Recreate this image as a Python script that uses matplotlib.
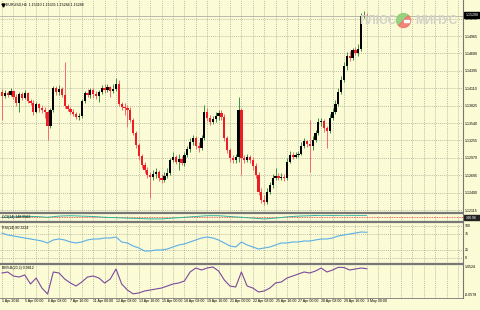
import matplotlib
matplotlib.use("Agg")
import matplotlib.pyplot as plt
from matplotlib.patches import Rectangle, Wedge
import numpy as np

plt.rcParams['font.family'] = ['Liberation Sans', 'DejaVu Sans']

### Data: EURUSD H4, 1 Apr 2016 16:00 .. 3 May 2016 00:00 ###

first_open = 1.1405
close = [1.1398, 1.1403, 1.1400, 1.1406, 1.1396, 1.1387, 1.1401, 1.1395, 1.1403, 1.1390,
         1.1387, 1.1372, 1.1385, 1.1378, 1.1375, 1.1372, 1.1349, 1.1375, 1.1411, 1.1405,
         1.1410, 1.1400, 1.1382, 1.1377, 1.1372, 1.1369, 1.1364, 1.1365, 1.1390, 1.1403,
         1.1400, 1.1408, 1.1401, 1.1398, 1.1405, 1.1411, 1.1408, 1.1413, 1.1406, 1.1410,
         1.1418, 1.1385, 1.1380, 1.1378, 1.1375, 1.1359, 1.1337, 1.1318, 1.1300, 1.1285,
         1.1277, 1.1269, 1.1265, 1.1270, 1.1273, 1.1264, 1.1260, 1.1267, 1.1272, 1.1293,
         1.1298, 1.1290, 1.1295, 1.1288, 1.1301, 1.1311, 1.1323, 1.1329, 1.1316, 1.1313,
         1.1329, 1.1372, 1.1362, 1.1355, 1.1360, 1.1365, 1.1370, 1.1364, 1.1329, 1.1310,
         1.1296, 1.1293, 1.1298, 1.1375, 1.1296, 1.1293, 1.1298, 1.1293, 1.1283, 1.1269,
         1.1241, 1.1228, 1.1224, 1.1241, 1.1252, 1.1264, 1.1267, 1.1264, 1.1265, 1.1264,
         1.1290, 1.1301, 1.1298, 1.1301, 1.1303, 1.1316, 1.1324, 1.1319, 1.1316, 1.1326,
         1.1337, 1.1355, 1.1357, 1.1346, 1.1341, 1.1362, 1.1372, 1.1385, 1.1405, 1.1424,
         1.1447, 1.1464, 1.1460, 1.1474, 1.1469, 1.1475, 1.1529, 1.1531, 1.15288]
high = [1.1410, 1.1408, 1.1406, 1.1411, 1.1408, 1.1401, 1.1405, 1.1405, 1.1408, 1.1405,
        1.1393, 1.1392, 1.1388, 1.1387, 1.1383, 1.1380, 1.1375, 1.1378, 1.1414, 1.1414,
        1.1416, 1.1413, 1.1454, 1.1385, 1.1380, 1.1377, 1.1372, 1.1370, 1.1393, 1.1406,
        1.1410, 1.1411, 1.1411, 1.1406, 1.1408, 1.1416, 1.1418, 1.1418, 1.1414, 1.1418,
        1.1428, 1.1424, 1.1388, 1.1387, 1.1383, 1.1380, 1.1362, 1.1341, 1.1321, 1.1303,
        1.1290, 1.1282, 1.1273, 1.1277, 1.1280, 1.1277, 1.1270, 1.1273, 1.1280, 1.1296,
        1.1306, 1.1301, 1.1303, 1.1300, 1.1306, 1.1316, 1.1329, 1.1334, 1.1332, 1.1323,
        1.1334, 1.1383, 1.1378, 1.1367, 1.1365, 1.1372, 1.1375, 1.1375, 1.1369, 1.1332,
        1.1313, 1.1301, 1.1303, 1.1396, 1.1378, 1.1301, 1.1303, 1.1301, 1.1298, 1.1288,
        1.1273, 1.1247, 1.1236, 1.1247, 1.1257, 1.1270, 1.1280, 1.1272, 1.1272, 1.1270,
        1.1296, 1.1308, 1.1306, 1.1306, 1.1308, 1.1323, 1.1329, 1.1326, 1.1359, 1.1332,
        1.1342, 1.1362, 1.1362, 1.1360, 1.1349, 1.1369, 1.1378, 1.1392, 1.1411, 1.1431,
        1.1454, 1.1470, 1.1472, 1.1477, 1.1478, 1.1483, 1.1534, 1.1537, 1.15335]
low = [1.1359, 1.1395, 1.1396, 1.1398, 1.1393, 1.1382, 1.1372, 1.1392, 1.1393, 1.1387,
       1.1383, 1.1367, 1.1370, 1.1372, 1.1370, 1.1362, 1.1326, 1.1346, 1.1372, 1.1400,
       1.1400, 1.1396, 1.1378, 1.1374, 1.1369, 1.1365, 1.1360, 1.1359, 1.1362, 1.1387,
       1.1396, 1.1395, 1.1395, 1.1393, 1.1388, 1.1401, 1.1403, 1.1405, 1.1396, 1.1403,
       1.1406, 1.1382, 1.1375, 1.1367, 1.1347, 1.1355, 1.1334, 1.1313, 1.1293, 1.1280,
       1.1272, 1.1264, 1.1232, 1.1260, 1.1264, 1.1259, 1.1255, 1.1257, 1.1264, 1.1269,
       1.1290, 1.1287, 1.1277, 1.1285, 1.1283, 1.1298, 1.1306, 1.1318, 1.1311, 1.1306,
       1.1310, 1.1326, 1.1357, 1.1351, 1.1352, 1.1355, 1.1359, 1.1359, 1.1324, 1.1305,
       1.1290, 1.1288, 1.1288, 1.1290, 1.1269, 1.1288, 1.1290, 1.1288, 1.1277, 1.1264,
       1.1236, 1.1223, 1.1219, 1.1221, 1.1237, 1.1247, 1.1260, 1.1260, 1.1260, 1.1259,
       1.1260, 1.1288, 1.1295, 1.1296, 1.1298, 1.1301, 1.1313, 1.1314, 1.1273, 1.1310,
       1.1323, 1.1334, 1.1349, 1.1339, 1.1313, 1.1337, 1.1359, 1.1369, 1.1382, 1.1401,
       1.1421, 1.1441, 1.1456, 1.1457, 1.1465, 1.1464, 1.1472, 1.1526, 1.15284]

price_ticks = [1.12115, 1.12400, 1.12685, 1.12970, 1.13255, 1.13540,
               1.13825, 1.14110, 1.14395, 1.14680, 1.14965, 1.15250]

date_labels = ["1 Apr 2016", "5 Apr 00:00", "6 Apr 08:00", "7 Apr 16:00", "11 Apr 00:00",
               "12 Apr 08:00", "13 Apr 16:00", "15 Apr 00:00", "18 Apr 08:00", "19 Apr 16:00",
               "21 Apr 00:00", "22 Apr 08:00", "25 Apr 16:00", "27 Apr 00:00", "28 Apr 08:00",
               "29 Apr 16:00", "3 May 00:00"]

# oscillators, read every 2nd / 4th bar
rsi = [78.1, 71.9, 68.8, 65.6, 62.5, 59.4, 56.3, 53.1, 46.9, 56.3,
       59.4, 56.3, 50.0, 46.9, 50.0, 56.3, 59.4, 59.4, 62.5, 62.5,
       65.6, 50.0, 46.9, 37.5, 31.3, 21.9, 21.9, 25.0, 25.0, 28.1,
       34.4, 40.6, 43.8, 50.0, 56.3, 62.5, 65.6, 62.5, 56.3, 46.9,
       37.5, 34.4, 50.0, 40.6, 34.4, 28.1, 31.3, 34.4, 40.6, 46.9,
       46.9, 50.0, 50.0, 53.1, 53.1, 56.3, 59.4, 59.4, 62.5, 68.8,
       71.9, 75.0, 78.1, 81.3, 80.3224]
pctb = [0.806, 0.847, 0.682, 0.641, 0.724, 0.354, 0.600, 0.189, -0.0578, 0.847,
        0.806, 0.559, 0.395, 0.271, 0.436, 0.641, 0.682, 0.600, 0.395, 0.559,
        0.970, 0.354, 0.107, -0.050, -0.016, 0.066, 0.107, 0.148, 0.189, 0.271,
        0.354, 0.395, 0.477, 0.847, 1.011, 0.929, 1.011, 1.0524, 0.888, 0.518,
        0.271, 0.230, 0.847, 0.271, 0.189, 0.025, 0.066, 0.189, 0.395, 0.436,
        0.600, 0.682, 0.765, 0.847, 0.806, 0.888, 1.011, 0.847, 0.929, 1.040,
        1.030, 0.929, 0.970, 1.011, 0.9812]
cci = [0, 30, 60, 60, 0, 90, 120, 90, 60, 0, -30, -60, -90, -120, -120, -60, 0,
       60, 120, 120, 60, 0, -60, -120, -60, 30, 90, 120, 150, 140, 155, 145, 148.9562]

### Styling ###
W, H = 480, 310
RIGHT = 463            # right edge of chart area in px
BAR_X0, BAR_STEP = 2.0, 2.85
BG = '#fbfbd5'
GRID = '#aaaa98'
BULL, BEAR = '#000000', '#ee1c24'
BULL_WICK, BEAR_WICK = '#3f8f3f', '#f06a6a'
SEP = '#777777'
FS = 2.6
P0, PK = 1.155554, 0.0001638   # price at top px and price per px

close = np.array(close); high = np.array(high); low = np.array(low)
opens = np.r_[first_open, close[:-1]]
idx = np.arange(len(close))

fig = plt.figure(figsize=(W / 100, H / 100), dpi=100, facecolor=BG)
xlim = (-BAR_X0 / BAR_STEP, (RIGHT - BAR_X0) / BAR_STEP)


def panel(top, bottom):
    a = fig.add_axes([0, 1 - bottom / H, RIGHT / W, (bottom - top) / H])
    a.set_facecolor(BG)
    a.set_xlim(*xlim)
    for s in a.spines.values():
        s.set_visible(False)
    a.set_xticks(np.arange(0, xlim[1], 4))
    a.tick_params(axis='both', length=0, labelsize=FS, pad=1.5)
    a.set_xticklabels([])
    a.yaxis.tick_right()
    a.grid(True, axis='x', ls=(0, (1.5, 1.5)), color=GRID, lw=0.5)
    return a


# main candle chart
ax = panel(0, 212)
ax.set_ylim(P0 - PK * 212, P0)
ax.set_yticks(price_ticks)
ax.set_yticklabels([f"{p:.5f}" for p in price_ticks])
ax.grid(True, axis='y', ls=(0, (1.5, 1.5)), color=GRID, lw=0.5)
up = close >= opens
ax.vlines(idx[up], low[up], high[up], color=BULL_WICK, lw=0.7, zorder=2)
ax.vlines(idx[~up], low[~up], high[~up], color=BEAR_WICK, lw=0.7, zorder=2)
body_h = np.maximum(np.abs(close - opens), 0.00005)
ax.bar(idx, body_h, bottom=np.minimum(close, opens), width=0.8,
       color=np.where(up, BULL, BEAR), linewidth=0, zorder=3)
ax.axhline(close[-1], color='#a0a0a0', lw=0.5, zorder=1)

# small CCI window
ax1 = panel(214.5, 220.5)
ax1.set_ylim(-240, 210)
ax1.set_yticks([])
ax1.axhline(0, color='#e03a3a', lw=0.6, ls=(0, (1, 1)))
ax1.plot(np.arange(0, len(close), 4), cci, color='#2fb3a0', lw=0.7)

# RSI window
ax2 = panel(223.5, 262.5)
ax2.set_ylim(-14.1, 107.8)
ax2.set_yticks([100, 75, 25, 0])
ax2.set_yticklabels(['100', '75', '25', '0'])
ax2.grid(True, axis='y', ls=(0, (1.5, 1.5)), color=GRID, lw=0.5)
ax2.plot(np.arange(0, len(close), 2), rsi, color='#5aaee8', lw=0.8)

# %B window
ax3 = panel(264.5, 297.5)
ax3.set_ylim(-0.201, 1.155)
ax3.set_yticks([1.0524, -0.0578])
ax3.set_yticklabels(['1.0524', '-0.0578'])
ax3.plot(np.arange(0, len(close), 2), pctb, color='#7b4a9c', lw=0.8)
ax3.set_xticks(np.arange(0, len(close), 8))
ax3.set_xticklabels(date_labels, ha='left')
ax3.set_xticks(np.arange(0, xlim[1], 4), minor=True)
ax3.grid(True, axis='x', which='minor', ls=(0, (1.5, 1.5)), color=GRID, lw=0.5)
ax3.tick_params(axis='x', which='both', length=0, pad=1.2, labelsize=FS)

# overlay in pixel coordinates for frame, texts and logo
ov = fig.add_axes([0, 0, 1, 1], zorder=10)
ov.set_xlim(0, W)
ov.set_ylim(H, 0)
ov.axis('off')
for y in (213.2, 222.0, 263.5):
    ov.plot([0, RIGHT], [y, y], color=SEP, lw=1.6, solid_capstyle='butt')
ov.plot([0, RIGHT], [297.8, 297.8], color=SEP, lw=0.6)
ov.plot([RIGHT, RIGHT], [0, 297.8], color=SEP, lw=0.8)

ov.plot(3, 5, marker='v', ms=2.2, color='black')
ov.text(6, 5, f"EURUSD,H4  {opens[-1]:.5f} {high[-1]:.5f} {low[-1]:.5f} {close[-1]:.5f}",
        fontsize=FS, va='center', color='black')
ov.text(2, 217.2, f"CCI(14) {cci[-1]:.4f}", fontsize=FS, va='center')
ov.text(2, 228, f"RSI(14) {rsi[-1]:.4f}", fontsize=FS, va='center')
ov.text(2, 268.5, f"BB%B(20,2) {pctb[-1]:.4f}", fontsize=FS, va='center')

# bid price box
ov.add_patch(Rectangle((464, 12.3), 16, 5.4, color='black'))
ov.text(465.5, 15, f"{close[-1]:.5f}", fontsize=FS, va='center', color='white')
ov.add_patch(Rectangle((464, 215.4), 16, 4.6, color='#222222'))
ov.text(466, 217.7, f"{cci[-1]:.2f}", fontsize=FS, va='center', color='white')

# watermark
ov.text(378, 20.5, 'ПЛЮС', fontsize=8.5, weight='bold', color='#d2d2c8',
        ha='center', va='center')
ov.text(436, 20.5, 'МИНУС', fontsize=8.5, weight='bold', color='#d2d2c8',
        ha='center', va='center')
ov.add_patch(Wedge((403.5, 20.5), 7, 135, 315, color='#8fd07a', alpha=0.9))
ov.add_patch(Wedge((403.5, 20.5), 7, 315, 135, color='#f07a6e', alpha=0.9))
ov.add_patch(Rectangle((404, 19.5), 5, 2, color='white'))

fig.savefig('out.png', dpi=100, facecolor=BG)
